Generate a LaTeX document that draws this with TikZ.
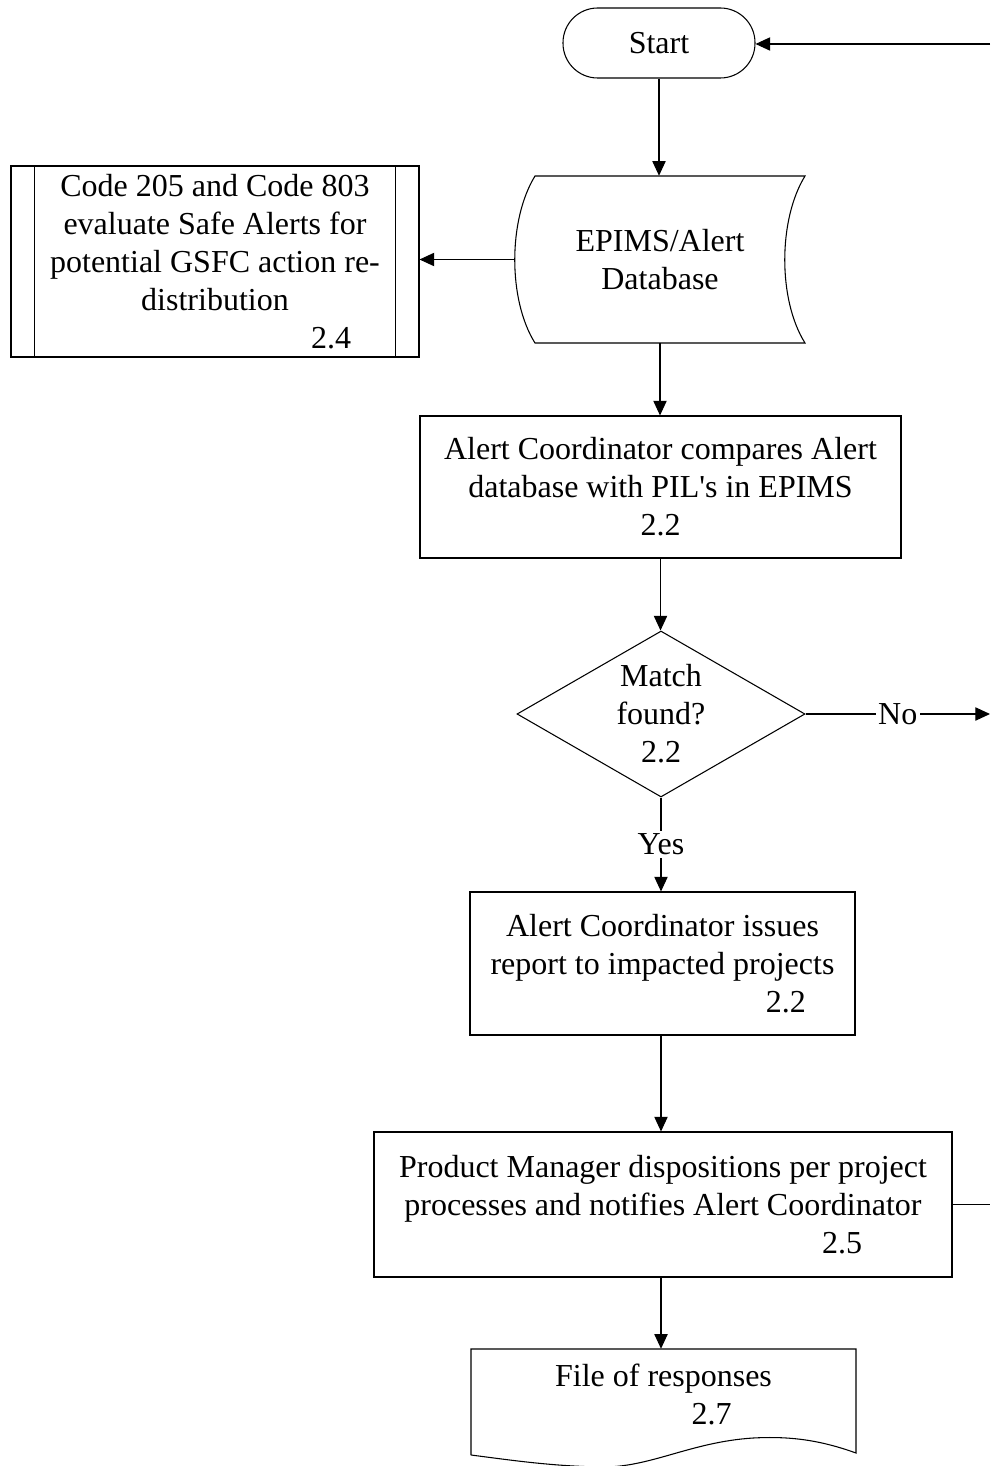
\documentclass[tikz,border=0pt]{standalone}
\usepackage{fontspec}
\setmainfont{Liberation Serif}[Ligatures=TeXOff]
\usetikzlibrary{shapes.geometric,arrows.meta}
\begin{document}
\begin{tikzpicture}[x=0.75pt,y=-0.75pt,
  every node/.style={font=\fontsize{24}{28.5}\selectfont},
  ln/.style={line width=0.8pt,draw=black},
  arr/.style={ln,-{Triangle[length=11pt,width=10pt]}},
  box/.style={ln,rectangle,inner sep=0pt,align=center},
  term/.style={ln,rectangle,rounded corners=26pt,inner sep=0pt,minimum width=144pt,minimum height=52.5pt},
  dec/.style={ln,diamond,inner sep=0pt,minimum width=216pt,minimum height=124.5pt},
  lbl/.style={fill=white,inner sep=2pt}
]
\useasboundingbox (0,0) rectangle (990,1466);

% Start
\node[term] (start) at (659,43) {Start};
\coordinate (inR) at (990,44);
\draw[arr] (inR) -- (start.east |- inR);

% Stored data
\node[inner sep=0pt,minimum width=217.5pt,minimum height=125.25pt,align=center] (db) at (660,259.5) {EPIMS/Alert\\Database};
\draw[ln] (535,176) -- (805,176)
  .. controls (778,220) and (778,300) .. (805,343)
  -- (535,343)
  .. controls (508,300) and (508,220) .. (535,176) -- cycle;

% Predefined process
\node[box,minimum width=306pt,minimum height=143.25pt] (pp) at (215,261.5)
  {Code 205 and Code 803\\evaluate Safe Alerts for\\potential GSFC action re-\\distribution\\\hspace*{174pt}2.4};
\draw[ln] ([xshift=18pt]pp.north west) -- ([xshift=18pt]pp.south west);
\draw[ln] ([xshift=-18pt]pp.north east) -- ([xshift=-18pt]pp.south east);

% Compare box
\node[box,minimum width=360.75pt,minimum height=106.5pt] (cmp) at (660.5,487)
  {Alert Coordinator compares Alert\\database with PIL's in EPIMS\\2.2};

% Decision
\node[dec,label={[align=center]center:Match\\found?\\2.2}] (dia) at (661,714) {};
\coordinate (noR) at (990,714);

% Issues box
\node[box,minimum width=288.75pt,minimum height=107.25pt] (iss) at (662.5,963.5)
  {Alert Coordinator issues\\report to impacted projects\\\hspace*{185pt}2.2};

% PM box
\node[box,minimum width=433.5pt,minimum height=108.75pt] (pm) at (663,1204.5)
  {Product Manager dispositions per project\\processes and notifies Alert Coordinator\\\hspace*{268.5pt}2.5};
\coordinate (pmR) at (990,1204.5);

% Document
\node[inner sep=0pt,minimum width=288.75pt,minimum height=79.5pt] (doc) at (663.5,1402) {};
\node[align=center] (doctext) at (663.5,1394) {File of responses\\\hspace*{72pt}2.7};
\draw[ln] (471,1455) -- (471,1349) -- (856,1349) -- (856,1453)
  .. controls (820,1440) and (790,1436) .. (753,1438)
  .. controls (690,1442) and (650,1468) .. (600,1467)
  .. controls (550,1466) and (510,1460) .. (471,1455);

% Connectors
\draw[arr] (start.south) -- (start.south |- db.north);
\draw[arr] (db.west) -- (pp.east |- db.west);
\draw[arr] (db.south) -- (db.south |- cmp.north);
\draw[arr] (cmp.south) -- (cmp.south |- dia.north);
\draw[arr] (dia.east) -- node[lbl]{No} (noR);
\draw[arr] (dia.south) -- node[lbl]{Yes} (dia.south |- iss.north);
\draw[arr] (iss.south -| dia.south) -- (dia.south |- pm.north);
\draw[arr] (pm.south -| dia.south) -- (dia.south |- doc.north);
\draw[ln] (pm.east) -- (pmR);
\end{tikzpicture}
\end{document}
